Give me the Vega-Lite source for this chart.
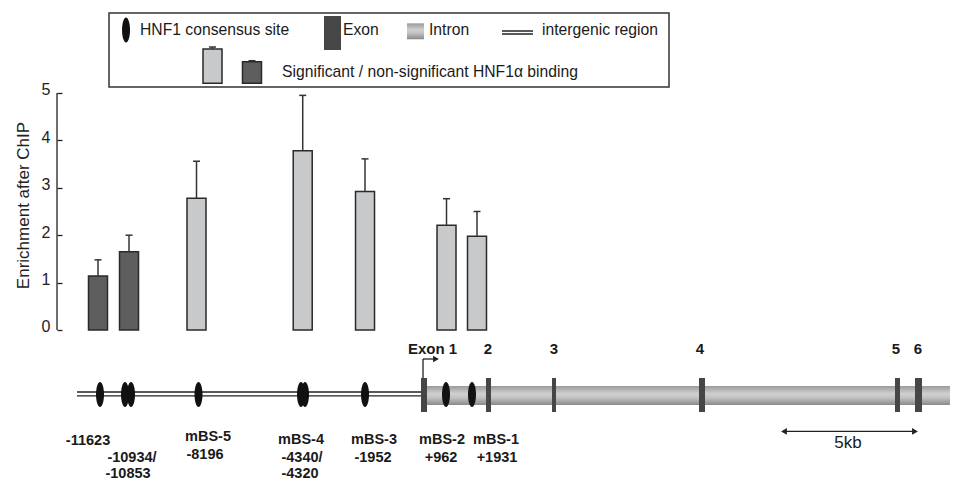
{
  "$schema": "https://vega.github.io/schema/vega-lite/v6.json",
  "autosize": {"type": "none"},
  "padding": {"left": 57, "top": 0, "right": 0, "bottom": 0},
  "width": 899,
  "height": 482,
  "background": "white",
  "config": {
    "view": {"stroke": null},
    "font": "Liberation Sans",
    "axisY": {"domain": false, "grid": false, "tickSize": -5, "tickColor": "#222222", "tickWidth": 1.3,
      "labelFont": "Liberation Sans", "labelFontSize": 16, "labelColor": "#222222", "labelPadding": 12, "labelOffset": -3,
      "titleFont": "Liberation Sans", "titleFontSize": 17, "titleFontWeight": "normal", "titleColor": "#222222", "titleX": -25, "titleY": 205}
  },
  "datasets": {
    "box": [{"pos": -11295, "pos2": 9109, "val": 5.127, "val2": 6.688}],
    "tube": [
      {"part": "gene body", "pos": 146, "pos2": 19347, "val": -1.181, "val2": -1.582},
      {"part": "legend intron", "pos": -437, "pos2": 182, "val": 6.470, "val2": 6.133}
    ],
    "exons": [
      {"exon": "1", "pos": 73, "pos2": 291, "val": -1.013, "val2": -1.730},
      {"exon": "2", "pos": 2441, "pos2": 2623, "val": -1.013, "val2": -1.730},
      {"exon": "3", "pos": 4846, "pos2": 4992, "val": -1.013, "val2": -1.730},
      {"exon": "4", "pos": 10202, "pos2": 10420, "val": -1.013, "val2": -1.730},
      {"exon": "5", "pos": 17343, "pos2": 17525, "val": -1.013, "val2": -1.730},
      {"exon": "6", "pos": 18072, "pos2": 18327, "val": -1.013, "val2": -1.730},
      {"exon": "legend", "pos": -3461, "pos2": -2842, "val": 6.624, "val2": 5.907}
    ],
    "segments": [
      {"part": "y axis", "pos": -13190, "pos2": -13190, "val": 0, "val2": 5},
      {"part": "intergenic a", "pos": -12461, "pos2": 73, "val": -1.308, "val2": -1.308},
      {"part": "intergenic b", "pos": -12461, "pos2": 73, "val": -1.392, "val2": -1.392},
      {"part": "tss up", "pos": 146, "pos2": 146, "val": -1.034, "val2": -0.612},
      {"part": "tss right", "pos": 146, "pos2": 547, "val": -0.612, "val2": -0.612},
      {"part": "5kb", "pos": 13335, "pos2": 18035, "val": -2.141, "val2": -2.141},
      {"part": "legend intergenic a", "pos": 3024, "pos2": 4154, "val": 6.308, "val2": 6.308},
      {"part": "legend intergenic b", "pos": 3024, "pos2": 4154, "val": 6.245, "val2": 6.245}
    ],
    "sites": [
      {"site": "-11623", "pos": -11623, "val": -1.361},
      {"site": "-10934", "pos": -10712, "val": -1.361},
      {"site": "-10853", "pos": -10493, "val": -1.361},
      {"site": "mBS-5", "pos": -8034, "val": -1.361},
      {"site": "-4340", "pos": -4299, "val": -1.361},
      {"site": "-4320", "pos": -4154, "val": -1.361},
      {"site": "mBS-3", "pos": -1967, "val": -1.361},
      {"site": "mBS-2", "pos": 984, "val": -1.361},
      {"site": "mBS-1", "pos": 1931, "val": -1.361},
      {"site": "legend", "pos": -10675, "val": 6.329}
    ],
    "heads": [
      {"part": "tss", "pos": 619, "val": -0.612, "dir": "right"},
      {"part": "5kb left", "pos": 13299, "val": -2.141, "dir": "left"},
      {"part": "5kb right", "pos": 18072, "val": -2.141, "dir": "right"}
    ],
    "bars": [
      {"name": "-11623", "pos": -11696, "val": 1.14, "base": 0, "upper": 1.48, "binding": "non-significant"},
      {"name": "-10934/-10853", "pos": -10566, "val": 1.65, "base": 0, "upper": 2.0, "binding": "non-significant"},
      {"name": "mBS-5", "pos": -8107, "val": 2.78, "base": 0, "upper": 3.56, "binding": "significant"},
      {"name": "mBS-4", "pos": -4237, "val": 3.78, "base": 0, "upper": 4.95, "binding": "significant"},
      {"name": "mBS-3", "pos": -1967, "val": 2.92, "base": 0, "upper": 3.61, "binding": "significant"},
      {"name": "mBS-2", "pos": 1002, "val": 2.21, "base": 0, "upper": 2.77, "binding": "significant"},
      {"name": "mBS-1", "pos": 2113, "val": 1.98, "base": 0, "upper": 2.5, "binding": "significant"},
      {"name": "legend significant", "pos": -7524, "val": 5.928, "base": 5.205, "upper": 5.97, "binding": "significant"},
      {"name": "legend non-significant", "pos": -6085, "val": 5.66, "base": 5.205, "upper": 5.681, "binding": "non-significant"}
    ],
    "legendText": [
      {"text": "HNF1 consensus site", "pos": -10165, "val": 6.224},
      {"text": "Exon", "pos": -2769, "val": 6.224},
      {"text": "Intron", "pos": 364, "val": 6.224},
      {"text": "intergenic region", "pos": 4482, "val": 6.224},
      {"text": "Significant / non-significant HNF1α binding", "pos": -4992, "val": 5.338}
    ],
    "exonText": [
      {"text": "Exon 1", "pos": 492, "val": -0.506},
      {"text": "2", "pos": 2514, "val": -0.506},
      {"text": "3", "pos": 4919, "val": -0.506},
      {"text": "4", "pos": 10238, "val": -0.506},
      {"text": "5", "pos": 17380, "val": -0.506},
      {"text": "6", "pos": 18181, "val": -0.506}
    ],
    "siteText": [
      {"text": "-11623", "pos": -12060, "val": -2.342},
      {"text": "-10934/", "pos": -10457, "val": -2.7},
      {"text": "-10853", "pos": -10603, "val": -3.038},
      {"text": "mBS-5", "pos": -7688, "val": -2.257},
      {"text": "-8196", "pos": -7797, "val": -2.637},
      {"text": "mBS-4", "pos": -4299, "val": -2.321},
      {"text": "-4340/", "pos": -4263, "val": -2.7},
      {"text": "-4320", "pos": -4336, "val": -3.038},
      {"text": "mBS-3", "pos": -1640, "val": -2.321},
      {"text": "-1952", "pos": -1676, "val": -2.7},
      {"text": "mBS-2", "pos": 838, "val": -2.321},
      {"text": "+962", "pos": 802, "val": -2.7},
      {"text": "mBS-1", "pos": 2805, "val": -2.321},
      {"text": "+1931", "pos": 2842, "val": -2.7}
    ],
    "scaleText": [
      {"text": "5kb", "pos": 15631, "val": -2.384}
    ]
  },
  "layer": [
    {
      "data": {"name": "box"},
      "mark": {"type": "rect", "fill": "white", "stroke": "#333333", "strokeWidth": 1.5},
      "encoding": {
        "x": {"field": "pos", "type": "quantitative", "scale": {"domain": [-13190, 19566], "nice": false, "zero": false, "padding": 0}, "axis": null},
        "x2": {"field": "pos2"},
        "y": {"field": "val", "type": "quantitative", "title": "Enrichment after ChIP", "axis": {"values": [0, 1, 2, 3, 4, 5]}, "scale": {"domain": [-3.207, 6.962], "nice": false, "zero": false, "padding": 0}},
        "y2": {"field": "val2"}
      }
    },
    {
      "data": {"name": "tube"},
      "mark": {
        "type": "rect",
        "fill": {"gradient": "linear", "x1": 0, "y1": 0, "x2": 0, "y2": 1,
          "stops": [
            {"offset": 0, "color": "#9a9a9a"},
            {"offset": 0.4, "color": "#cfcfcf"},
            {"offset": 0.6, "color": "#c4c4c4"},
            {"offset": 1, "color": "#8a8a8a"}
          ]}
      },
      "encoding": {
        "x": {"field": "pos", "type": "quantitative", "scale": {"domain": [-13190, 19566], "nice": false, "zero": false, "padding": 0}, "axis": null},
        "x2": {"field": "pos2"},
        "y": {"field": "val", "type": "quantitative", "title": "Enrichment after ChIP", "axis": {"values": [0, 1, 2, 3, 4, 5]}, "scale": {"domain": [-3.207, 6.962], "nice": false, "zero": false, "padding": 0}},
        "y2": {"field": "val2"}
      }
    },
    {
      "data": {"name": "segments"},
      "mark": {"type": "rule", "color": "#222222", "strokeWidth": 1.3},
      "encoding": {
        "x": {"field": "pos", "type": "quantitative", "scale": {"domain": [-13190, 19566], "nice": false, "zero": false, "padding": 0}, "axis": null},
        "x2": {"field": "pos2"},
        "y": {"field": "val", "type": "quantitative", "title": "Enrichment after ChIP", "axis": {"values": [0, 1, 2, 3, 4, 5]}, "scale": {"domain": [-3.207, 6.962], "nice": false, "zero": false, "padding": 0}},
        "y2": {"field": "val2"}
      }
    },
    {
      "data": {"name": "exons"},
      "mark": {"type": "rect", "fill": "#464646"},
      "encoding": {
        "x": {"field": "pos", "type": "quantitative", "scale": {"domain": [-13190, 19566], "nice": false, "zero": false, "padding": 0}, "axis": null},
        "x2": {"field": "pos2"},
        "y": {"field": "val", "type": "quantitative", "title": "Enrichment after ChIP", "axis": {"values": [0, 1, 2, 3, 4, 5]}, "scale": {"domain": [-3.207, 6.962], "nice": false, "zero": false, "padding": 0}},
        "y2": {"field": "val2"}
      }
    },
    {
      "data": {"name": "sites"},
      "mark": {"type": "point", "filled": true, "opacity": 1, "color": "#111111", "size": 625,
        "shape": "M0,-1A0.32,1,0,1,1,0,1A0.32,1,0,1,1,0,-1Z"},
      "encoding": {
        "x": {"field": "pos", "type": "quantitative", "scale": {"domain": [-13190, 19566], "nice": false, "zero": false, "padding": 0}, "axis": null},
        "y": {"field": "val", "type": "quantitative", "title": "Enrichment after ChIP", "axis": {"values": [0, 1, 2, 3, 4, 5]}, "scale": {"domain": [-3.207, 6.962], "nice": false, "zero": false, "padding": 0}}
      }
    },
    {
      "data": {"name": "heads"},
      "mark": {"type": "point", "filled": true, "opacity": 1, "color": "#222222", "size": 45},
      "encoding": {
        "x": {"field": "pos", "type": "quantitative", "scale": {"domain": [-13190, 19566], "nice": false, "zero": false, "padding": 0}, "axis": null},
        "y": {"field": "val", "type": "quantitative", "title": "Enrichment after ChIP", "axis": {"values": [0, 1, 2, 3, 4, 5]}, "scale": {"domain": [-3.207, 6.962], "nice": false, "zero": false, "padding": 0}},
        "shape": {"field": "dir", "type": "nominal", "scale": {"domain": ["left", "right"], "range": ["triangle-left", "triangle-right"]}, "legend": null}
      }
    },
    {
      "data": {"name": "bars"},
      "mark": {"type": "bar", "size": 19, "stroke": "#2a2a2a", "strokeWidth": 1.5},
      "encoding": {
        "x": {"field": "pos", "type": "quantitative", "scale": {"domain": [-13190, 19566], "nice": false, "zero": false, "padding": 0}, "axis": null},
        "y": {"field": "val", "type": "quantitative", "title": "Enrichment after ChIP", "axis": {"values": [0, 1, 2, 3, 4, 5]}, "scale": {"domain": [-3.207, 6.962], "nice": false, "zero": false, "padding": 0}},
        "y2": {"field": "base"},
        "color": {"field": "binding", "type": "nominal", "scale": {"domain": ["significant", "non-significant"], "range": ["#c8c9cb", "#5e5e5e"]}, "legend": null}
      }
    },
    {
      "data": {"name": "bars"},
      "mark": {"type": "rule", "color": "#333333", "strokeWidth": 1.5},
      "encoding": {
        "x": {"field": "pos", "type": "quantitative", "scale": {"domain": [-13190, 19566], "nice": false, "zero": false, "padding": 0}, "axis": null},
        "y": {"field": "val", "type": "quantitative", "title": "Enrichment after ChIP", "axis": {"values": [0, 1, 2, 3, 4, 5]}, "scale": {"domain": [-3.207, 6.962], "nice": false, "zero": false, "padding": 0}},
        "y2": {"field": "upper"}
      }
    },
    {
      "data": {"name": "bars"},
      "mark": {"type": "tick", "orient": "horizontal", "size": 7, "thickness": 1.5, "color": "#333333", "opacity": 1},
      "encoding": {
        "x": {"field": "pos", "type": "quantitative", "scale": {"domain": [-13190, 19566], "nice": false, "zero": false, "padding": 0}, "axis": null},
        "y": {"field": "upper", "type": "quantitative", "title": "Enrichment after ChIP", "axis": {"values": [0, 1, 2, 3, 4, 5]}, "scale": {"domain": [-3.207, 6.962], "nice": false, "zero": false, "padding": 0}}
      }
    },
    {
      "data": {"name": "legendText"},
      "mark": {"type": "text", "align": "left", "baseline": "alphabetic", "font": "Liberation Sans", "fontSize": 15.7, "color": "#1a1a1a"},
      "encoding": {
        "x": {"field": "pos", "type": "quantitative", "scale": {"domain": [-13190, 19566], "nice": false, "zero": false, "padding": 0}, "axis": null},
        "y": {"field": "val", "type": "quantitative", "title": "Enrichment after ChIP", "axis": {"values": [0, 1, 2, 3, 4, 5]}, "scale": {"domain": [-3.207, 6.962], "nice": false, "zero": false, "padding": 0}},
        "text": {"field": "text"}
      }
    },
    {
      "data": {"name": "exonText"},
      "mark": {"type": "text", "align": "center", "baseline": "alphabetic", "font": "Liberation Sans", "fontWeight": "bold", "fontSize": 15, "color": "#1a1a1a"},
      "encoding": {
        "x": {"field": "pos", "type": "quantitative", "scale": {"domain": [-13190, 19566], "nice": false, "zero": false, "padding": 0}, "axis": null},
        "y": {"field": "val", "type": "quantitative", "title": "Enrichment after ChIP", "axis": {"values": [0, 1, 2, 3, 4, 5]}, "scale": {"domain": [-3.207, 6.962], "nice": false, "zero": false, "padding": 0}},
        "text": {"field": "text"}
      }
    },
    {
      "data": {"name": "siteText"},
      "mark": {"type": "text", "align": "center", "baseline": "middle", "font": "Liberation Sans", "fontWeight": "bold", "fontSize": 14.5, "color": "#1a1a1a"},
      "encoding": {
        "x": {"field": "pos", "type": "quantitative", "scale": {"domain": [-13190, 19566], "nice": false, "zero": false, "padding": 0}, "axis": null},
        "y": {"field": "val", "type": "quantitative", "title": "Enrichment after ChIP", "axis": {"values": [0, 1, 2, 3, 4, 5]}, "scale": {"domain": [-3.207, 6.962], "nice": false, "zero": false, "padding": 0}},
        "text": {"field": "text"}
      }
    },
    {
      "data": {"name": "scaleText"},
      "mark": {"type": "text", "align": "center", "baseline": "middle", "font": "Liberation Sans", "fontSize": 17, "color": "#1a1a1a"},
      "encoding": {
        "x": {"field": "pos", "type": "quantitative", "scale": {"domain": [-13190, 19566], "nice": false, "zero": false, "padding": 0}, "axis": null},
        "y": {"field": "val", "type": "quantitative", "title": "Enrichment after ChIP", "axis": {"values": [0, 1, 2, 3, 4, 5]}, "scale": {"domain": [-3.207, 6.962], "nice": false, "zero": false, "padding": 0}},
        "text": {"field": "text"}
      }
    }
  ]
}
